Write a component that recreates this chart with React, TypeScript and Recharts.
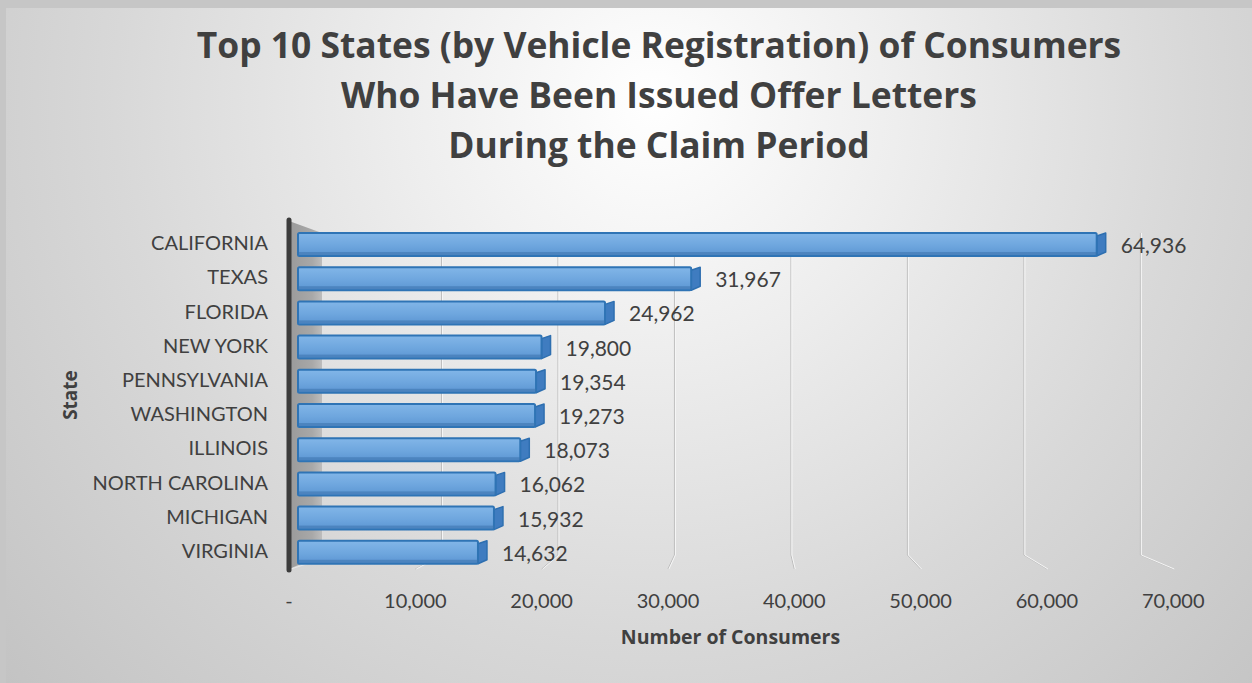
import React from 'react';
import { BarChart, Bar, XAxis, YAxis, CartesianGrid, LabelList } from 'recharts';

const states = ['CALIFORNIA', 'TEXAS', 'FLORIDA', 'NEW YORK', 'PENNSYLVANIA', 'WASHINGTON', 'ILLINOIS', 'NORTH CAROLINA', 'MICHIGAN', 'VIRGINIA'];
const consumers = [64936, 31967, 24962, 19800, 19354, 19273, 18073, 16062, 15932, 14632];
const xTicks = [0, 10000, 20000, 30000, 40000, 50000, 60000, 70000];
const titleLines = ['Top 10 States (by Vehicle Registration) of Consumers', 'Who Have Been Issued Offer Letters', 'During the Claim Period'];
const xAxisTitle = 'Number of Consumers';
const yAxisTitle = 'State';

const data = states.map((s, i) => ({ state: s, value: consumers[i] }));

const W = 1252;
const H = 683;
const PLOT_LEFT = 298;
const Y_AXIS_W = 298;
const X_AXIS_H = 114;
const FONT = 'Lato, "Open Sans", sans-serif';
const BOLD_FONT = '"Open Sans", Lato, sans-serif';
const TXT = '#404040';

const fmt = (v: number) => (v === 0 ? '-' : v.toLocaleString('en-US'));

const floorX = (x: number) => PLOT_LEFT - 9 + (x - PLOT_LEFT) * 1.027;
const backX = (x: number) => PLOT_LEFT + 27 + (x - PLOT_LEFT) * 0.947;

const GridLine = (p: any) => {
  const x = p.x1;
  const top = Math.min(p.y1, p.y2);
  const bottom = Math.max(p.y1, p.y2);
  const d = x - PLOT_LEFT;
  if (d < 1) {
    const ax = PLOT_LEFT - 9;
    return (
      <g key={p.key}>
        <polygon
          points={`${ax},${top - 6} ${PLOT_LEFT + 24},${top + 6} ${PLOT_LEFT + 24},${bottom - 14} ${ax},${bottom}`}
          fill="url(#wallGrad)"
        />
        <line x1={ax + 2} y1={bottom} x2={PLOT_LEFT + 30} y2={bottom - 12} stroke="#e8e8e8" strokeWidth={1} />
        <line x1={ax} y1={top - 7} x2={ax} y2={bottom + 1} stroke="#3c3c3c" strokeWidth={5} strokeLinecap="round" />
      </g>
    );
  }
  const bx = backX(x);
  const fx = floorX(x);
  return (
    <g key={p.key}>
      <polyline points={`${bx},${top + 6} ${bx},${bottom - 14} ${fx},${bottom}`} fill="none" stroke="#bdbdbd" strokeWidth={1} />
      <polyline points={`${bx + 1},${top + 6} ${bx + 1},${bottom - 14} ${fx + 1},${bottom}`} fill="none" stroke="#f6f6f6" strokeWidth={1} />
    </g>
  );
};

const Bar3D = (p: any) => {
  const { x, y, width, height } = p;
  const s = 9;
  const r = x + width;
  return (
    <g>
      <polygon
        points={`${r},${y + 3} ${r + s},${y} ${r + s},${y + height - 4} ${r},${y + height}`}
        fill="#3f7cc0"
        stroke="#2e6fb0"
        strokeWidth={1.5}
        strokeLinejoin="round"
      />
      <rect x={x} y={y} width={width} height={height} fill="url(#barGrad)" stroke="#2f74b5" strokeWidth={2} rx={1.5} />
      <rect x={x + 1} y={y + height - 4} width={width - 1} height={3} fill="#3d73ad" opacity={0.55} />
    </g>
  );
};

const YTick = (p: any) => (
  <text x={p.x} y={p.y - 2} textAnchor="end" dominantBaseline="central" fontFamily={FONT} fontSize={20} fill={TXT}>
    {p.payload.value}
  </text>
);

const XTick = (p: any) => (
  <text x={floorX(p.x)} y={p.y} textAnchor="middle" dominantBaseline="central" fontFamily={FONT} fontSize={20} fill={TXT}>
    {fmt(p.payload.value)}
  </text>
);

const ValueLabel = (p: any) => (
  <text
    x={p.x + p.width + 24}
    y={p.y + p.height / 2}
    textAnchor="start"
    dominantBaseline="central"
    fontFamily={FONT}
    fontSize={21}
    fill={TXT}
  >
    {fmt(p.value)}
  </text>
);

const YTitle = (p: any) => {
  const vb = p.viewBox || { x: 0, y: 227, width: 298, height: 342 };
  const cx = vb.x + 70;
  const cy = vb.y + vb.height / 2 - 3;
  return (
    <text
      x={cx}
      y={cy}
      transform={`rotate(-90 ${cx} ${cy})`}
      textAnchor="middle"
      dominantBaseline="central"
      fontFamily={BOLD_FONT}
      fontWeight={700}
      fontSize={19}
      fill={TXT}
    >
      {yAxisTitle}
    </text>
  );
};

export default function App() {
  return (
    <div style={{ position: 'absolute', left: 0, top: 0, width: W, height: H, background: '#c6c6c6', overflow: 'hidden' }}>
      <div
        style={{
          position: 'absolute',
          left: 6,
          top: 8,
          width: W - 6,
          height: H - 8,
          background: 'radial-gradient(circle at 52% 14%, #ffffff 0%, #eeeeee 28%, #d8d8d8 62%, #c3c3c3 100%)',
        }}
      />
      <div
        style={{
          position: 'absolute',
          left: 659,
          top: 19,
          transform: 'translateX(-50%)',
          whiteSpace: 'nowrap',
          textAlign: 'center',
          fontFamily: BOLD_FONT,
          fontWeight: 700,
          fontSize: 35.4,
          lineHeight: '50px',
          color: TXT,
        }}
      >
        {titleLines.map((t) => (
          <div key={t}>{t}</div>
        ))}
      </div>
      <div style={{ position: 'absolute', left: 0, top: 0 }}>
        <BarChart
          width={W}
          height={H}
          data={data}
          layout="vertical"
          margin={{ top: 227, right: 93, bottom: 0, left: 0 }}
          barCategoryGap={0}
        >
          <defs>
            <linearGradient id="wallGrad" x1="0" y1="0" x2="1" y2="0">
              <stop offset="0%" stopColor="#9a9a9a" />
              <stop offset="70%" stopColor="#a8a8a8" />
              <stop offset="100%" stopColor="#bdbdbd" />
            </linearGradient>
            <linearGradient id="barGrad" x1="0" y1="0" x2="0" y2="1">
              <stop offset="0%" stopColor="#82b6e8" />
              <stop offset="55%" stopColor="#6ea6de" />
              <stop offset="100%" stopColor="#5b95d2" />
            </linearGradient>
          </defs>
          <CartesianGrid horizontal={false} vertical={GridLine} />
          <XAxis
            type="number"
            domain={[0, 70000]}
            ticks={xTicks}
            height={X_AXIS_H}
            axisLine={false}
            tickLine={false}
            tickSize={0}
            tickMargin={31}
            tick={XTick}
            label={{ value: xAxisTitle, position: 'insideBottom', offset: 39, fontFamily: BOLD_FONT, fontWeight: 700, fontSize: 19.5, fill: TXT, dx: 2 }}
          />
          <YAxis
            type="category"
            dataKey="state"
            width={Y_AXIS_W}
            axisLine={false}
            tickLine={false}
            tickSize={0}
            tickMargin={30}
            tick={YTick}
            interval={0}
            label={{ content: YTitle }}
          />
          <Bar dataKey="value" barSize={23} shape={Bar3D} isAnimationActive={false}>
            <LabelList dataKey="value" content={ValueLabel} />
          </Bar>
        </BarChart>
      </div>
    </div>
  );
}
